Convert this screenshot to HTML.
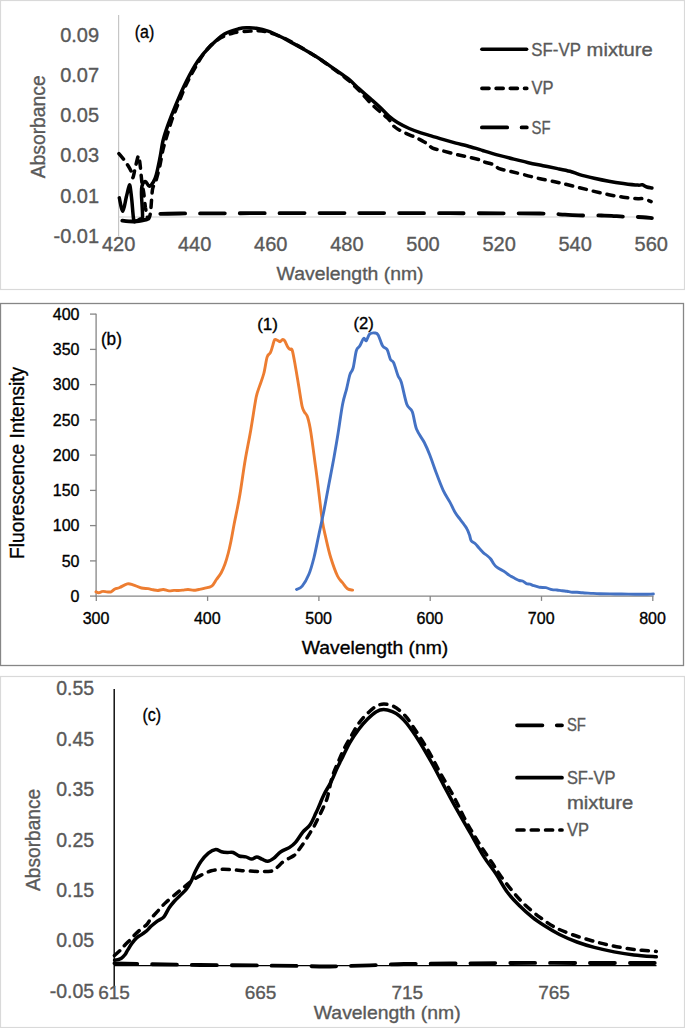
<!DOCTYPE html>
<html><head><meta charset="utf-8"><style>
html,body{margin:0;padding:0;background:#fff;}
body{width:685px;height:1028px;overflow:hidden;}
svg{display:block;font-family:"Liberation Sans",sans-serif;}
text{stroke-width:0.35px;}
</style></head><body>
<svg width="685" height="1028" viewBox="0 0 685 1028">
<rect width="685" height="1028" fill="#fff"/>
<rect x="0.5" y="0.5" width="684" height="289" fill="none" stroke="#d9d9d9" stroke-width="1.2"/>
<rect x="0.5" y="303.5" width="683" height="362" fill="none" stroke="#868686" stroke-width="1.3"/>
<rect x="0.5" y="676.5" width="684" height="351" fill="none" stroke="#d9d9d9" stroke-width="1.2"/>
<line x1="118.6" y1="15" x2="118.6" y2="236" stroke="#c6c6c6" stroke-width="1.2"/>
<line x1="118.6" y1="217" x2="652" y2="217" stroke="#d0d0d0" stroke-width="1.2"/>
<text x="99.1" y="41.6" font-size="20" fill="#595959" stroke="#595959" text-anchor="end">0.09</text>
<text x="99.1" y="81.5" font-size="20" fill="#595959" stroke="#595959" text-anchor="end">0.07</text>
<text x="99.1" y="121.6" font-size="20" fill="#595959" stroke="#595959" text-anchor="end">0.05</text>
<text x="99.1" y="162.3" font-size="20" fill="#595959" stroke="#595959" text-anchor="end">0.03</text>
<text x="99.1" y="202.9" font-size="20" fill="#595959" stroke="#595959" text-anchor="end">0.01</text>
<text x="99.1" y="242.7" font-size="20" fill="#595959" stroke="#595959" text-anchor="end">-0.01</text>
<text x="118.6" y="251.2" font-size="20" fill="#595959" stroke="#595959" text-anchor="middle">420</text>
<text x="194.7" y="251.2" font-size="20" fill="#595959" stroke="#595959" text-anchor="middle">440</text>
<text x="270.8" y="251.2" font-size="20" fill="#595959" stroke="#595959" text-anchor="middle">460</text>
<text x="346.9" y="251.2" font-size="20" fill="#595959" stroke="#595959" text-anchor="middle">480</text>
<text x="423.0" y="251.2" font-size="20" fill="#595959" stroke="#595959" text-anchor="middle">500</text>
<text x="499.1" y="251.2" font-size="20" fill="#595959" stroke="#595959" text-anchor="middle">520</text>
<text x="575.2" y="251.2" font-size="20" fill="#595959" stroke="#595959" text-anchor="middle">540</text>
<text x="651.3" y="251.2" font-size="20" fill="#595959" stroke="#595959" text-anchor="middle">560</text>
<text x="276.6" y="280.4" font-size="19.2" fill="#595959" stroke="#595959" text-anchor="start" textLength="147" lengthAdjust="spacingAndGlyphs">Wavelength (nm)</text>
<text transform="translate(44.5,178.3) rotate(-90)" font-size="19.5" fill="#595959" stroke="#595959" textLength="103" lengthAdjust="spacingAndGlyphs">Absorbance</text>
<text x="134.7" y="38.3" font-size="18.3" fill="#000" stroke="#000" text-anchor="start" textLength="19.5" lengthAdjust="spacingAndGlyphs">(a)</text>
<path d="M119.5,220.3 C122.0,220.5 129.8,221.7 134.5,221.5 C139.2,221.3 144.9,219.7 147.7,219.2 C150.4,218.7 149.8,219.1 151.0,218.5 C152.2,217.9 153.7,216.2 155.0,215.5 C156.3,214.8 154.8,214.3 159.0,214.0 C163.2,213.7 164.8,213.6 180.0,213.5 C195.2,213.4 221.7,213.3 250.0,213.2 C278.3,213.1 316.7,213.1 350.0,213.1 C383.3,213.1 418.3,213.1 450.0,213.2 C481.7,213.3 520.8,213.2 540.0,213.5 C559.2,213.8 557.7,214.4 565.0,214.7 C572.3,215.0 577.9,215.4 584.0,215.5 C590.1,215.6 596.9,215.4 601.5,215.5 C606.1,215.6 608.1,215.6 611.7,215.8 C615.4,216.0 619.0,216.4 623.4,216.6 C627.8,216.8 633.2,216.8 638.0,217.0 C642.8,217.2 649.6,217.9 651.9,218.1" fill="none" stroke="#000" stroke-width="3.8" stroke-dasharray="24.9 14.9" stroke-dashoffset="-2.8" stroke-linecap="round" stroke-linejoin="round"/>
<path d="M118.9,153.6 C119.8,154.7 122.9,158.3 124.3,160.2 C125.7,162.1 126.3,162.9 127.5,164.8 C128.7,166.7 130.5,169.7 131.4,171.8 C132.3,174.0 132.3,178.3 132.9,177.7 C133.5,177.1 134.3,171.6 135.2,168.0 C136.1,164.4 137.6,156.8 138.4,156.0 C139.2,155.2 139.4,159.2 139.9,163.0 C140.4,166.8 141.1,174.8 141.5,178.5 C141.9,182.2 141.9,183.0 142.3,185.5 C142.7,188.0 143.3,189.7 143.8,193.3 C144.3,196.9 144.8,203.2 145.4,207.3 C146.1,211.4 147.0,216.4 147.7,218.0 C148.4,219.6 149.0,218.4 149.5,217.0 C150.0,215.6 150.3,214.1 150.8,209.6 C151.3,205.1 151.8,194.4 152.4,190.1 C153.0,185.8 153.9,185.7 154.5,184.0 C155.1,182.3 155.3,183.2 156.2,180.0 C157.1,176.8 158.9,170.1 160.0,165.0 C161.1,159.9 161.9,154.2 163.0,149.5 C164.1,144.8 165.3,141.4 166.7,136.6 C168.1,131.8 169.9,125.7 171.6,120.7 C173.3,115.7 175.2,111.4 177.0,106.7 C178.8,102.0 180.8,97.2 182.7,92.7 C184.6,88.2 186.3,84.2 188.5,79.9 C190.7,75.6 192.8,71.7 195.6,67.0 C198.3,62.4 201.4,56.5 205.0,52.0 C208.6,47.5 212.2,43.5 216.9,40.3 C221.6,37.1 227.4,34.5 233.0,33.0 C238.6,31.5 245.2,31.4 250.5,31.1 C255.8,30.9 259.6,30.4 265.0,31.5 C270.4,32.5 277.6,35.3 282.6,37.4 C287.6,39.5 288.9,40.4 295.0,44.0 C301.1,47.6 311.2,53.2 319.5,58.8 C327.8,64.4 339.2,73.0 345.0,77.5 C350.8,82.0 351.3,83.0 354.0,85.5 C356.7,88.0 358.1,89.4 361.0,92.5 C363.9,95.6 367.8,100.4 371.5,104.0 C375.2,107.6 380.1,111.7 383.0,114.3 C385.9,116.9 387.3,117.6 389.0,119.5 C390.7,121.4 391.0,123.5 393.1,125.5 C395.2,127.5 398.2,129.5 401.9,131.4 C405.5,133.3 411.6,135.6 415.0,137.2 C418.4,138.8 420.1,139.7 422.3,140.9 C424.5,142.1 426.5,143.3 428.2,144.5 C429.9,145.7 430.4,147.2 432.6,148.2 C434.8,149.2 437.7,149.4 441.3,150.4 C444.9,151.4 450.1,152.9 454.5,154.0 C458.9,155.1 463.4,155.9 467.6,156.9 C471.9,157.9 477.2,159.1 480.0,159.9 C482.8,160.8 482.2,161.2 484.6,162.0 C487.0,162.8 491.7,163.8 494.1,164.9 C496.5,166.0 496.4,167.5 499.2,168.6 C502.0,169.7 506.5,170.4 510.9,171.5 C515.3,172.6 520.6,173.9 525.5,175.1 C530.4,176.3 535.2,177.7 540.1,178.8 C545.0,179.9 550.6,180.8 554.7,181.7 C558.9,182.6 560.9,183.1 565.0,184.1 C569.1,185.1 574.7,186.5 579.6,187.7 C584.5,188.9 589.3,190.2 594.2,191.4 C599.1,192.6 603.9,193.7 608.8,194.7 C613.7,195.7 618.5,196.5 623.4,197.2 C628.3,197.9 634.6,198.4 638.0,198.7 C641.4,198.9 641.6,198.2 643.8,198.7 C646.0,199.2 649.9,201.1 651.1,201.6" fill="none" stroke="#000" stroke-width="3.5" stroke-dasharray="7 7.1" stroke-linecap="round" stroke-linejoin="round"/>
<path d="M119.3,197.9 C119.9,200.1 121.6,211.3 122.8,211.2 C124.0,211.0 125.3,201.0 126.3,197.0 C127.3,193.0 128.2,188.8 128.8,187.0 C129.4,185.2 129.5,183.8 130.0,186.0 C130.5,188.2 131.2,194.4 131.8,200.0 C132.4,205.6 133.0,216.2 133.7,219.7 C134.4,223.2 134.9,221.1 136.0,221.0 C137.1,220.9 138.9,219.7 140.0,219.0 C141.1,218.3 142.2,221.0 142.5,217.0 C142.8,213.0 141.6,200.2 141.5,195.0 C141.4,189.8 141.3,188.2 142.0,186.0 C142.7,183.8 144.2,181.6 145.4,181.6 C146.6,181.6 148.0,186.1 149.3,186.2 C150.6,186.3 152.0,184.2 153.2,182.3 C154.4,180.4 155.1,178.9 156.3,174.6 C157.5,170.3 159.0,162.5 160.2,156.7 C161.3,150.9 161.9,145.2 163.2,140.0 C164.5,134.8 165.7,131.3 167.8,125.4 C169.9,119.5 172.9,111.8 176.0,104.4 C179.1,97.0 182.8,88.3 186.5,81.0 C190.2,73.7 194.2,66.3 198.2,60.5 C202.2,54.7 206.1,50.4 210.5,46.0 C214.9,41.6 219.8,36.9 224.5,34.0 C229.2,31.1 235.0,29.8 238.8,28.8 C242.7,27.8 244.7,27.9 247.6,27.8 C250.5,27.7 252.9,27.7 256.3,28.3 C259.7,28.9 264.1,29.9 268.0,31.2 C271.9,32.5 276.0,34.5 279.7,36.3 C283.4,38.0 285.9,39.5 290.0,41.7 C294.1,43.9 299.7,46.9 304.6,49.7 C309.5,52.5 314.3,55.3 319.2,58.5 C324.1,61.7 328.9,65.3 333.8,68.7 C338.7,72.1 344.3,75.6 348.4,78.9 C352.5,82.2 355.0,85.1 358.6,88.4 C362.2,91.7 366.7,95.4 370.3,98.6 C373.9,101.8 376.9,104.4 380.0,107.3 C383.1,110.2 385.9,113.5 388.8,116.1 C391.7,118.6 394.1,120.5 397.5,122.6 C400.9,124.7 405.3,126.8 409.2,128.5 C413.1,130.2 417.2,131.6 420.9,132.8 C424.5,134.0 427.5,134.7 431.1,135.8 C434.8,136.9 438.7,138.2 442.8,139.4 C446.9,140.6 451.8,142.0 455.9,143.1 C460.0,144.2 463.6,144.9 467.6,146.0 C471.6,147.1 477.2,148.8 480.0,149.6 C482.8,150.4 481.4,150.1 484.6,151.1 C487.8,152.1 494.3,154.1 499.2,155.4 C504.1,156.7 508.9,157.9 513.8,159.1 C518.7,160.3 523.5,161.6 528.4,162.7 C533.3,163.8 538.1,164.7 543.0,165.7 C547.9,166.7 553.1,167.7 557.6,168.6 C562.1,169.5 566.3,170.3 570.0,171.3 C573.7,172.3 575.6,173.4 579.6,174.6 C583.6,175.8 589.3,177.1 594.2,178.2 C599.1,179.3 603.9,180.3 608.8,181.2 C613.7,182.1 618.5,182.8 623.4,183.4 C628.3,184.1 634.8,184.9 638.0,185.1 C641.2,185.3 640.9,184.5 642.4,184.8 C643.9,185.1 645.2,186.5 646.8,187.0 C648.4,187.5 651.0,187.8 651.9,188.0" fill="none" stroke="#000" stroke-width="3.5" stroke-linejoin="round" stroke-linecap="round"/>
<line x1="481.9" y1="49.2" x2="526.6" y2="49.2" stroke="#000" stroke-width="3.6" stroke-linecap="round"/>
<line x1="481.9" y1="88.4" x2="526.8" y2="88.4" stroke="#000" stroke-width="3.6" stroke-dasharray="7.1 7.1" stroke-linecap="round"/>
<line x1="481.9" y1="127.4" x2="526.8" y2="127.4" stroke="#000" stroke-width="3.8" stroke-dasharray="25.3 14.4" stroke-linecap="round"/>
<text x="531.3" y="55.5" font-size="18.5" fill="#595959" stroke="#595959" text-anchor="start" textLength="49.6" lengthAdjust="spacingAndGlyphs">SF-VP</text>
<text x="586.6" y="55.5" font-size="18.5" fill="#595959" stroke="#595959" text-anchor="start" textLength="66.2" lengthAdjust="spacingAndGlyphs">mixture</text>
<text x="531.6" y="94.2" font-size="18.5" fill="#595959" stroke="#595959" text-anchor="start" textLength="22" lengthAdjust="spacingAndGlyphs">VP</text>
<text x="531.6" y="133.6" font-size="18.5" fill="#595959" stroke="#595959" text-anchor="start" textLength="19" lengthAdjust="spacingAndGlyphs">SF</text>
<line x1="96.1" y1="313.7" x2="96.1" y2="596.8" stroke="#868686" stroke-width="1.3"/>
<line x1="95.5" y1="596.1" x2="653.4" y2="596.1" stroke="#868686" stroke-width="1.3"/>
<line x1="90" y1="596.1" x2="96.1" y2="596.1" stroke="#868686" stroke-width="1.3"/>
<text x="79.5" y="601.9" font-size="16" fill="#000" stroke="#000" text-anchor="end">0</text>
<line x1="90" y1="560.9" x2="96.1" y2="560.9" stroke="#868686" stroke-width="1.3"/>
<text x="79.5" y="566.7" font-size="16" fill="#000" stroke="#000" text-anchor="end">50</text>
<line x1="90" y1="525.6" x2="96.1" y2="525.6" stroke="#868686" stroke-width="1.3"/>
<text x="79.5" y="531.4" font-size="16" fill="#000" stroke="#000" text-anchor="end">100</text>
<line x1="90" y1="490.4" x2="96.1" y2="490.4" stroke="#868686" stroke-width="1.3"/>
<text x="79.5" y="496.2" font-size="16" fill="#000" stroke="#000" text-anchor="end">150</text>
<line x1="90" y1="455.1" x2="96.1" y2="455.1" stroke="#868686" stroke-width="1.3"/>
<text x="79.5" y="460.9" font-size="16" fill="#000" stroke="#000" text-anchor="end">200</text>
<line x1="90" y1="419.9" x2="96.1" y2="419.9" stroke="#868686" stroke-width="1.3"/>
<text x="79.5" y="425.7" font-size="16" fill="#000" stroke="#000" text-anchor="end">250</text>
<line x1="90" y1="384.6" x2="96.1" y2="384.6" stroke="#868686" stroke-width="1.3"/>
<text x="79.5" y="390.4" font-size="16" fill="#000" stroke="#000" text-anchor="end">300</text>
<line x1="90" y1="349.4" x2="96.1" y2="349.4" stroke="#868686" stroke-width="1.3"/>
<text x="79.5" y="355.2" font-size="16" fill="#000" stroke="#000" text-anchor="end">350</text>
<line x1="90" y1="314.1" x2="96.1" y2="314.1" stroke="#868686" stroke-width="1.3"/>
<text x="79.5" y="319.9" font-size="16" fill="#000" stroke="#000" text-anchor="end">400</text>
<line x1="96.3" y1="596" x2="96.3" y2="600.9" stroke="#868686" stroke-width="1.3"/>
<text x="96.0" y="624.3" font-size="16" fill="#000" stroke="#000" text-anchor="middle">300</text>
<line x1="207.6" y1="596" x2="207.6" y2="600.9" stroke="#868686" stroke-width="1.3"/>
<text x="207.3" y="624.3" font-size="16" fill="#000" stroke="#000" text-anchor="middle">400</text>
<line x1="318.9" y1="596" x2="318.9" y2="600.9" stroke="#868686" stroke-width="1.3"/>
<text x="318.6" y="624.3" font-size="16" fill="#000" stroke="#000" text-anchor="middle">500</text>
<line x1="430.2" y1="596" x2="430.2" y2="600.9" stroke="#868686" stroke-width="1.3"/>
<text x="429.9" y="624.3" font-size="16" fill="#000" stroke="#000" text-anchor="middle">600</text>
<line x1="541.5" y1="596" x2="541.5" y2="600.9" stroke="#868686" stroke-width="1.3"/>
<text x="541.2" y="624.3" font-size="16" fill="#000" stroke="#000" text-anchor="middle">700</text>
<line x1="652.8" y1="596" x2="652.8" y2="600.9" stroke="#868686" stroke-width="1.3"/>
<text x="652.5" y="624.3" font-size="16" fill="#000" stroke="#000" text-anchor="middle">800</text>
<text x="301.8" y="654.3" font-size="19" fill="#000" stroke="#000" text-anchor="start" textLength="146.5" lengthAdjust="spacingAndGlyphs">Wavelength (nm)</text>
<text transform="translate(23.8,558.9) rotate(-90)" font-size="19.5" fill="#000" stroke="#000" textLength="192" lengthAdjust="spacingAndGlyphs">Fluorescence Intensity</text>
<text x="100.9" y="344.7" font-size="18" fill="#000" stroke="#000" text-anchor="start" textLength="21" lengthAdjust="spacingAndGlyphs">(b)</text>
<text x="257.2" y="329.6" font-size="17" fill="#000" stroke="#000" text-anchor="start" textLength="20.8" lengthAdjust="spacingAndGlyphs">(1)</text>
<text x="353.6" y="328.6" font-size="17" fill="#000" stroke="#000" text-anchor="start" textLength="20.3" lengthAdjust="spacingAndGlyphs">(2)</text>
<path d="M96.0,591.8 C96.5,592.0 97.7,592.9 98.8,592.8 C99.9,592.7 101.2,591.5 102.6,591.4 C104.0,591.2 105.6,591.8 107.0,591.9 C108.4,592.0 109.8,592.3 111.1,591.8 C112.4,591.3 113.5,589.7 114.9,589.0 C116.3,588.3 117.6,588.4 119.7,587.5 C121.8,586.6 125.1,584.4 127.3,583.9 C129.5,583.4 130.6,584.1 133.0,584.8 C135.4,585.5 139.0,587.4 141.5,588.0 C144.0,588.6 146.2,588.3 148.1,588.6 C150.0,588.9 151.4,589.5 153.0,589.8 C154.6,590.1 155.9,590.5 157.6,590.5 C159.3,590.5 161.4,589.4 163.3,589.5 C165.2,589.6 167.2,590.8 169.0,590.9 C170.8,591.0 172.4,590.5 174.0,590.4 C175.6,590.3 177.0,590.5 178.5,590.5 C180.0,590.5 181.4,590.3 183.0,590.1 C184.6,589.9 186.2,589.5 188.0,589.5 C189.8,589.5 191.9,590.3 193.7,590.3 C195.5,590.3 197.3,589.8 199.0,589.5 C200.7,589.2 202.0,589.0 204.1,588.4 C206.2,587.8 209.6,587.6 211.7,586.1 C213.8,584.6 214.8,581.7 216.4,579.5 C218.0,577.3 219.8,575.4 221.2,572.8 C222.6,570.2 223.8,567.3 225.0,564.0 C226.2,560.7 227.3,556.8 228.3,553.0 C229.3,549.2 230.0,545.9 231.0,541.0 C232.0,536.1 233.2,529.0 234.2,523.8 C235.2,518.6 236.0,515.0 237.0,510.0 C238.0,505.0 238.6,502.3 240.0,494.0 C241.4,485.7 243.4,470.6 245.2,460.0 C247.0,449.4 248.9,440.8 250.7,430.4 C252.5,420.0 254.7,404.9 256.1,397.6 C257.6,390.3 258.1,390.6 259.4,386.6 C260.7,382.6 262.5,378.4 263.8,373.5 C265.1,368.6 266.0,360.6 267.1,357.1 C268.2,353.6 269.5,354.5 270.4,352.7 C271.3,350.9 271.9,348.3 272.6,346.1 C273.3,343.9 273.8,340.5 274.7,339.6 C275.6,338.7 277.1,340.4 278.0,340.7 C278.9,341.0 279.5,341.9 280.2,341.7 C280.9,341.5 281.7,339.8 282.4,339.6 C283.1,339.4 283.7,339.4 284.6,340.7 C285.5,342.0 287.0,345.8 287.9,347.2 C288.8,348.6 289.4,348.8 290.1,349.4 C290.8,349.9 291.4,347.6 292.3,350.5 C293.2,353.4 294.4,360.9 295.5,366.9 C296.6,372.9 297.7,380.0 298.8,386.6 C299.9,393.2 301.2,402.1 302.1,406.3 C303.0,410.5 303.4,410.0 304.3,411.8 C305.2,413.6 306.5,413.8 307.6,417.3 C308.7,420.8 309.6,424.3 310.9,432.6 C312.2,440.9 314.2,456.7 315.6,466.9 C317.0,477.1 317.9,484.8 319.0,493.7 C320.1,502.6 321.2,513.3 322.3,520.6 C323.4,527.9 324.3,531.2 325.7,537.4 C327.1,543.5 328.7,551.1 330.7,557.5 C332.7,563.9 335.5,571.8 337.5,576.0 C339.5,580.2 340.8,580.6 342.5,582.7 C344.2,584.8 345.8,587.6 347.5,588.8 C349.2,590.0 351.8,589.9 352.6,590.1" fill="none" stroke="#ed7d31" stroke-width="2.9" stroke-linejoin="round" stroke-linecap="round"/>
<path d="M296.5,589.4 C297.4,588.9 300.1,588.6 302.2,586.1 C304.3,583.6 306.9,579.1 308.9,574.3 C310.9,569.5 312.3,564.2 314.0,557.5 C315.7,550.8 317.3,541.8 319.0,534.0 C320.7,526.2 322.3,518.9 324.0,510.5 C325.7,502.1 327.3,492.6 329.0,483.7 C330.7,474.8 332.6,465.3 334.1,456.8 C335.6,448.3 336.8,441.4 338.2,432.6 C339.6,423.8 341.2,411.5 342.6,404.2 C344.0,396.9 345.4,393.7 346.6,388.8 C347.8,383.9 348.8,378.1 349.9,374.6 C351.0,371.1 352.0,372.0 353.1,368.0 C354.2,364.0 355.3,354.1 356.4,350.5 C357.5,346.9 358.5,348.1 359.7,346.1 C360.9,344.1 362.5,339.4 363.6,338.5 C364.7,337.6 365.3,341.4 366.3,340.7 C367.3,340.0 368.2,335.4 369.6,334.1 C371.1,332.8 373.6,332.8 375.0,333.0 C376.4,333.2 377.0,333.0 378.3,335.2 C379.6,337.4 381.2,343.7 382.7,346.1 C384.2,348.5 385.8,347.2 387.1,349.4 C388.4,351.6 389.3,357.1 390.4,359.3 C391.5,361.5 392.3,359.9 393.6,362.6 C394.9,365.3 396.7,372.4 398.0,375.7 C399.3,379.0 399.8,377.6 401.3,382.3 C402.8,387.1 405.0,399.3 406.8,404.2 C408.6,409.1 410.7,407.6 412.3,411.8 C413.9,416.0 414.6,424.2 416.6,429.3 C418.6,434.4 422.1,438.2 424.3,442.5 C426.5,446.8 427.8,449.9 429.8,455.1 C431.8,460.3 434.3,467.7 436.5,473.6 C438.7,479.5 441.0,485.6 443.2,490.4 C445.4,495.1 447.9,498.5 449.9,502.1 C451.9,505.7 453.3,509.4 455.0,512.2 C456.7,515.1 458.5,517.2 460.0,519.2 C461.5,521.2 462.8,522.8 464.0,524.5 C465.2,526.2 466.3,527.6 467.2,529.4 C468.1,531.1 468.8,533.1 469.5,535.0 C470.2,536.9 470.2,539.2 471.2,540.7 C472.2,542.2 474.0,542.5 475.3,543.7 C476.6,544.9 477.6,546.5 479.0,548.0 C480.4,549.5 482.2,551.6 483.5,552.9 C484.8,554.1 485.8,554.5 487.0,555.5 C488.2,556.5 489.6,557.7 490.7,559.0 C491.8,560.3 492.5,562.1 493.5,563.5 C494.5,564.9 495.1,565.9 496.8,567.2 C498.5,568.5 502.1,570.2 503.9,571.3 C505.7,572.4 506.3,573.1 507.5,574.0 C508.7,574.9 509.9,575.6 511.1,576.4 C512.4,577.1 513.6,577.8 515.0,578.5 C516.4,579.2 518.0,580.1 519.3,580.5 C520.5,580.9 521.3,580.5 522.5,581.0 C523.7,581.5 525.1,583.1 526.4,583.6 C527.6,584.1 528.8,583.9 530.0,584.2 C531.2,584.5 532.0,585.1 533.6,585.6 C535.2,586.1 537.7,586.9 539.7,587.3 C541.7,587.6 543.8,587.3 545.8,587.7 C547.8,588.1 550.1,589.3 552.0,589.7 C553.9,590.1 555.3,589.8 557.0,590.0 C558.7,590.2 560.5,590.5 562.2,590.7 C563.9,590.9 565.3,591.0 567.0,591.2 C568.7,591.5 570.7,592.0 572.4,592.2 C574.1,592.4 575.3,592.1 577.0,592.2 C578.7,592.3 580.0,592.6 582.6,592.8 C585.2,593.0 589.9,593.2 592.8,593.4 C595.7,593.6 597.1,593.7 600.0,593.8 C602.9,593.9 606.4,593.9 610.0,593.9 C613.6,593.9 617.3,594.0 621.5,594.0 C625.7,594.0 631.1,594.2 635.0,594.2 C638.9,594.2 641.9,594.3 645.0,594.3 C648.1,594.3 652.0,594.0 653.4,594.0" fill="none" stroke="#4472c4" stroke-width="2.9" stroke-linejoin="round" stroke-linecap="round"/>
<line x1="114.2" y1="689" x2="114.2" y2="987" stroke="#000" stroke-width="1.4"/>
<line x1="114" y1="965.6" x2="656.5" y2="965.6" stroke="#000" stroke-width="1.2"/>
<text x="94.2" y="695.1" font-size="19.5" fill="#595959" stroke="#595959" text-anchor="end">0.55</text>
<text x="94.2" y="745.6" font-size="19.5" fill="#595959" stroke="#595959" text-anchor="end">0.45</text>
<text x="94.2" y="796.0" font-size="19.5" fill="#595959" stroke="#595959" text-anchor="end">0.35</text>
<text x="94.2" y="846.5" font-size="19.5" fill="#595959" stroke="#595959" text-anchor="end">0.25</text>
<text x="94.2" y="896.9" font-size="19.5" fill="#595959" stroke="#595959" text-anchor="end">0.15</text>
<text x="94.2" y="947.4" font-size="19.5" fill="#595959" stroke="#595959" text-anchor="end">0.05</text>
<text x="94.2" y="997.8" font-size="19.5" fill="#595959" stroke="#595959" text-anchor="end">-0.05</text>
<text x="114.0" y="999.2" font-size="19" fill="#595959" stroke="#595959" text-anchor="middle">615</text>
<text x="260.6" y="999.2" font-size="19" fill="#595959" stroke="#595959" text-anchor="middle">665</text>
<text x="407.3" y="999.2" font-size="19" fill="#595959" stroke="#595959" text-anchor="middle">715</text>
<text x="554.0" y="999.2" font-size="19" fill="#595959" stroke="#595959" text-anchor="middle">765</text>
<text x="313.8" y="1019.2" font-size="19" fill="#595959" stroke="#595959" text-anchor="start" textLength="146.8" lengthAdjust="spacingAndGlyphs">Wavelength (nm)</text>
<text transform="translate(39.7,890.9) rotate(-90)" font-size="19.5" fill="#595959" stroke="#595959" textLength="102" lengthAdjust="spacingAndGlyphs">Absorbance</text>
<text x="142.5" y="720.7" font-size="17.5" fill="#000" stroke="#000" text-anchor="start" textLength="18.7" lengthAdjust="spacingAndGlyphs">(c)</text>
<path d="M114.4,963.3 C120.3,963.4 135.7,963.9 150.0,964.2 C164.3,964.5 181.7,964.8 200.0,965.0 C218.3,965.2 243.3,965.3 260.0,965.5 C276.7,965.7 289.2,965.8 300.0,966.0 C310.8,966.2 317.5,966.5 325.0,966.5 C332.5,966.5 337.5,966.2 345.0,966.0 C352.5,965.8 360.2,965.6 370.0,965.3 C379.8,965.0 390.7,964.3 404.0,964.0 C417.3,963.7 432.3,963.7 450.0,963.5 C467.7,963.3 485.0,963.1 510.0,963.0 C535.0,962.9 575.6,963.0 600.0,963.0 C624.4,963.0 646.9,963.0 656.3,963.0" fill="none" stroke="#000" stroke-width="3.8" stroke-dasharray="24.9 14.9" stroke-dashoffset="2" stroke-linecap="round" stroke-linejoin="round"/>
<path d="M114.4,955.6 C115.4,954.7 118.9,951.6 120.5,950.0 C122.1,948.4 122.4,947.7 124.0,946.0 C125.6,944.3 128.3,941.7 130.1,939.9 C131.8,938.1 132.8,936.9 134.5,935.1 C136.2,933.4 138.5,931.2 140.6,929.4 C142.7,927.6 145.1,926.3 146.8,924.5 C148.5,922.7 149.2,920.6 151.0,918.5 C152.8,916.4 154.8,914.3 157.3,911.6 C159.8,908.9 162.4,905.6 166.1,902.2 C169.8,898.8 175.5,894.2 179.2,891.2 C182.8,888.2 185.6,885.9 188.0,883.9 C190.4,881.9 191.6,881.0 193.8,879.5 C196.0,878.0 198.2,876.6 201.1,875.1 C204.0,873.6 207.7,871.8 211.3,870.8 C215.0,869.8 219.1,869.4 223.0,869.3 C226.9,869.2 231.0,869.8 234.7,870.0 C238.3,870.2 240.8,870.5 244.9,870.8 C249.0,871.0 254.7,871.4 259.0,871.5 C263.3,871.6 267.8,871.8 270.7,871.2 C273.6,870.6 274.3,869.5 276.5,867.9 C278.7,866.2 280.9,863.4 283.8,861.3 C286.7,859.2 291.6,857.3 294.0,855.5 C296.4,853.7 296.7,852.6 298.4,850.4 C300.1,848.2 302.2,845.2 304.2,842.3 C306.1,839.4 308.4,835.6 310.1,832.8 C311.8,830.0 313.1,828.2 314.5,825.5 C315.9,822.8 317.3,819.9 318.8,816.8 C320.3,813.7 322.1,810.3 323.5,807.0 C324.9,803.7 326.1,802.0 327.5,797.0 C328.9,792.0 330.4,782.9 332.1,777.1 C333.9,771.3 336.0,767.0 338.0,762.4 C340.0,757.8 341.7,753.6 343.9,749.2 C346.1,744.8 348.8,740.2 351.2,736.0 C353.6,731.8 355.8,727.5 358.5,723.7 C361.2,720.0 363.9,716.6 367.4,713.5 C370.8,710.4 375.0,706.1 379.2,704.8 C383.4,703.5 388.2,704.2 392.4,705.8 C396.5,707.4 400.7,711.2 404.1,714.6 C407.5,718.0 408.7,720.1 412.6,726.0 C416.6,731.9 423.2,742.0 427.8,749.8 C432.4,757.5 435.6,764.6 440.0,772.5 C444.4,780.4 449.6,788.8 454.0,797.0 C458.4,805.2 462.2,814.0 466.3,821.6 C470.4,829.2 474.2,835.6 478.6,842.6 C483.0,849.6 489.0,858.2 492.6,863.6 C496.2,869.0 496.7,870.4 500.0,875.0 C503.3,879.6 508.3,886.1 512.4,891.1 C516.5,896.1 520.2,900.4 524.8,904.7 C529.3,909.0 534.7,913.4 539.7,917.1 C544.7,920.8 549.2,924.2 554.6,927.1 C560.0,930.0 565.7,932.2 571.9,934.5 C578.1,936.8 585.2,938.8 591.8,940.7 C598.4,942.6 604.6,944.2 611.6,945.7 C618.6,947.2 626.5,948.5 634.0,949.4 C641.5,950.3 652.6,951.1 656.3,951.4" fill="none" stroke="#000" stroke-width="3.5" stroke-dasharray="7 7.1" stroke-linecap="round" stroke-linejoin="round"/>
<path d="M114.6,960.3 C115.2,960.2 116.9,959.9 118.0,959.6 C119.1,959.3 120.2,959.1 121.4,958.3 C122.6,957.5 123.9,956.1 124.9,954.8 C125.9,953.5 126.3,952.3 127.5,950.4 C128.7,948.5 130.4,945.4 131.9,943.4 C133.4,941.4 134.7,939.6 136.3,938.1 C137.9,936.6 139.8,935.8 141.5,934.6 C143.2,933.4 145.2,932.2 146.8,930.8 C148.4,929.4 149.2,927.9 151.0,926.3 C152.8,924.7 155.2,922.7 157.3,921.1 C159.5,919.5 162.0,919.0 163.9,916.8 C165.8,914.6 167.2,910.7 169.0,908.0 C170.8,905.3 172.9,902.9 174.8,900.7 C176.8,898.5 178.8,896.9 180.7,894.9 C182.6,892.9 184.8,891.2 186.5,889.0 C188.2,886.8 189.4,884.6 190.9,881.7 C192.4,878.8 193.6,874.9 195.3,871.5 C197.0,868.1 198.9,864.3 201.1,861.3 C203.3,858.2 206.0,855.2 208.4,853.2 C210.8,851.2 213.5,849.8 215.7,849.6 C217.9,849.4 219.6,851.3 221.5,851.8 C223.4,852.3 225.5,852.4 227.4,852.5 C229.3,852.6 231.2,851.9 233.2,852.5 C235.1,853.1 237.0,855.3 239.1,856.0 C241.2,856.7 243.7,856.4 245.8,856.9 C247.9,857.4 249.9,859.1 251.7,859.1 C253.5,859.1 255.1,856.9 256.8,856.9 C258.5,856.9 260.1,858.4 261.9,859.1 C263.7,859.8 265.8,861.4 267.7,861.3 C269.6,861.2 271.4,860.0 273.6,858.4 C275.8,856.8 278.2,853.6 280.9,851.8 C283.6,850.0 287.2,849.0 289.6,847.4 C292.0,845.8 293.3,844.8 295.5,842.3 C297.7,839.8 300.4,835.0 302.8,832.1 C305.2,829.2 307.9,828.0 310.1,824.8 C312.3,821.6 314.3,816.4 315.9,813.1 C317.5,809.8 318.2,808.0 319.5,805.0 C320.8,802.0 321.9,798.8 323.8,794.9 C325.7,791.0 328.9,786.2 331.1,781.8 C333.3,777.4 335.0,772.8 336.9,768.6 C338.8,764.5 340.5,761.3 342.7,756.9 C344.9,752.5 347.3,746.9 350.0,742.3 C352.7,737.7 355.9,733.1 358.8,729.2 C361.7,725.3 364.7,721.9 367.6,719.0 C370.5,716.1 373.6,713.3 376.3,711.7 C379.0,710.1 380.9,709.5 383.6,709.5 C386.3,709.5 389.7,710.6 392.4,711.7 C395.1,712.8 397.3,714.1 399.7,716.1 C402.1,718.1 403.6,719.4 406.8,723.5 C410.0,727.6 414.9,734.6 419.0,741.0 C423.1,747.4 427.2,754.7 431.3,762.0 C435.4,769.3 439.4,777.2 443.5,784.8 C447.6,792.4 451.4,799.7 455.8,807.6 C460.2,815.5 465.1,823.9 469.8,832.1 C474.5,840.3 479.4,849.6 483.8,856.6 C488.2,863.6 492.2,868.2 496.1,874.1 C500.0,880.0 503.4,887.0 507.4,892.3 C511.3,897.6 515.7,901.9 519.8,906.0 C523.9,910.1 528.1,913.8 532.2,917.1 C536.3,920.4 540.1,922.9 544.6,925.8 C549.1,928.7 554.1,931.8 559.5,934.5 C564.9,937.2 571.1,939.9 576.9,942.0 C582.7,944.1 588.1,945.8 594.3,947.4 C600.5,949.0 607.5,950.6 614.1,951.9 C620.7,953.1 627.0,954.1 634.0,954.9 C641.0,955.7 652.6,956.5 656.3,956.8" fill="none" stroke="#000" stroke-width="3.5" stroke-linejoin="round" stroke-linecap="round"/>
<line x1="517" y1="725.3" x2="562" y2="725.3" stroke="#000" stroke-width="3.8" stroke-dasharray="25.4 14.4" stroke-linecap="round"/>
<line x1="517" y1="777.7" x2="562" y2="777.7" stroke="#000" stroke-width="3.7" stroke-linecap="round"/>
<line x1="517" y1="830" x2="562" y2="830" stroke="#000" stroke-width="3.7" stroke-dasharray="7 7.3" stroke-linecap="round"/>
<text x="566.9" y="731.4" font-size="17.5" fill="#595959" stroke="#595959" text-anchor="start" textLength="19" lengthAdjust="spacingAndGlyphs">SF</text>
<text x="566.9" y="783.8" font-size="17.5" fill="#595959" stroke="#595959" text-anchor="start" textLength="48.5" lengthAdjust="spacingAndGlyphs">SF-VP</text>
<text x="566.9" y="809.3" font-size="17.5" fill="#595959" stroke="#595959" text-anchor="start" textLength="66.4" lengthAdjust="spacingAndGlyphs">mixture</text>
<text x="566.9" y="835.6" font-size="17.5" fill="#595959" stroke="#595959" text-anchor="start" textLength="22" lengthAdjust="spacingAndGlyphs">VP</text>
</svg>
</body></html>
